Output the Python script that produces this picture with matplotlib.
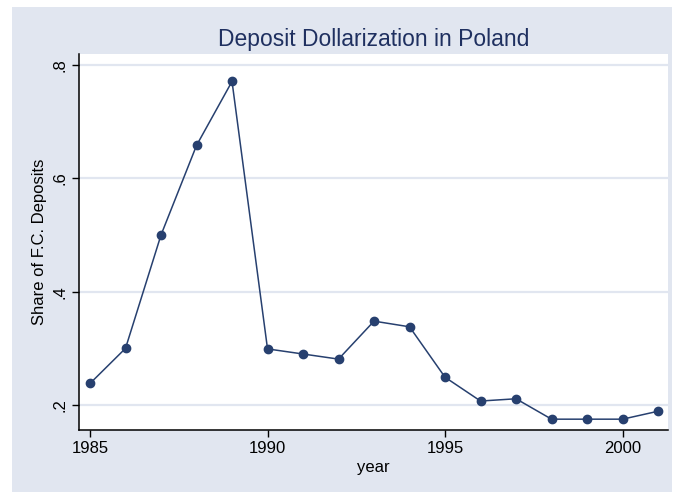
import matplotlib
matplotlib.use("Agg")
import matplotlib.pyplot as plt
from matplotlib.patches import Rectangle

years = [1985, 1986, 1987, 1988, 1989, 1990, 1991, 1992, 1993,
         1994, 1995, 1996, 1997, 1998, 1999, 2000, 2001]
share = [0.238, 0.300, 0.500, 0.658, 0.771, 0.299, 0.290, 0.281, 0.348,
         0.338, 0.249, 0.207, 0.211, 0.175, 0.175, 0.175, 0.189]

x_ticks = [1985, 1990, 1995, 2000]
y_ticks = [0.2, 0.4, 0.6, 0.8]
y_tick_labels = [".2", ".4", ".6", ".8"]

navy = "#27406f"
bg = "#e1e6f0"

plt.rcParams["font.family"] = ["Liberation Sans", "DejaVu Sans"]

fig = plt.figure(figsize=(6.73, 4.92), dpi=100, facecolor="white")
# stata style graph region, kept behind the axes
fig.patches.append(Rectangle((12 / 673, 0), 660 / 673, 1 - 7 / 492,
                             transform=fig.transFigure, facecolor=bg,
                             edgecolor="none", zorder=-10))

ax = fig.add_axes([79 / 673, 1 - 430 / 492, 589 / 673, 376 / 492])
ax.set_facecolor("white")
ax.plot(years, share, "-o", color=navy, lw=1.1, ms=6, zorder=3)

ax.set_xlim(1984.69, 2001.28)
ax.set_ylim(0.1559, 0.8194)
ax.set_xticks(x_ticks)
ax.set_yticks(y_ticks)
ax.set_yticklabels(y_tick_labels, rotation=90, va="center")
ax.tick_params(labelsize=12, length=5, width=1, color="black", pad=3)
ax.grid(axis="y", color=bg, lw=1.6)
ax.set_axisbelow(True)

for s in ["top", "right"]:
    ax.spines[s].set_visible(False)
for s in ["left", "bottom"]:
    ax.spines[s].set_linewidth(1.1)

ax.set_xlabel("year", fontsize=12, labelpad=3)
ax.set_ylabel("Share of F.C. Deposits", fontsize=12, labelpad=4)
ax.set_title("Deposit Dollarization in Poland", fontsize=16.5, color="#1f3060", pad=6)

fig.savefig("out.png", dpi=100, facecolor="white")
